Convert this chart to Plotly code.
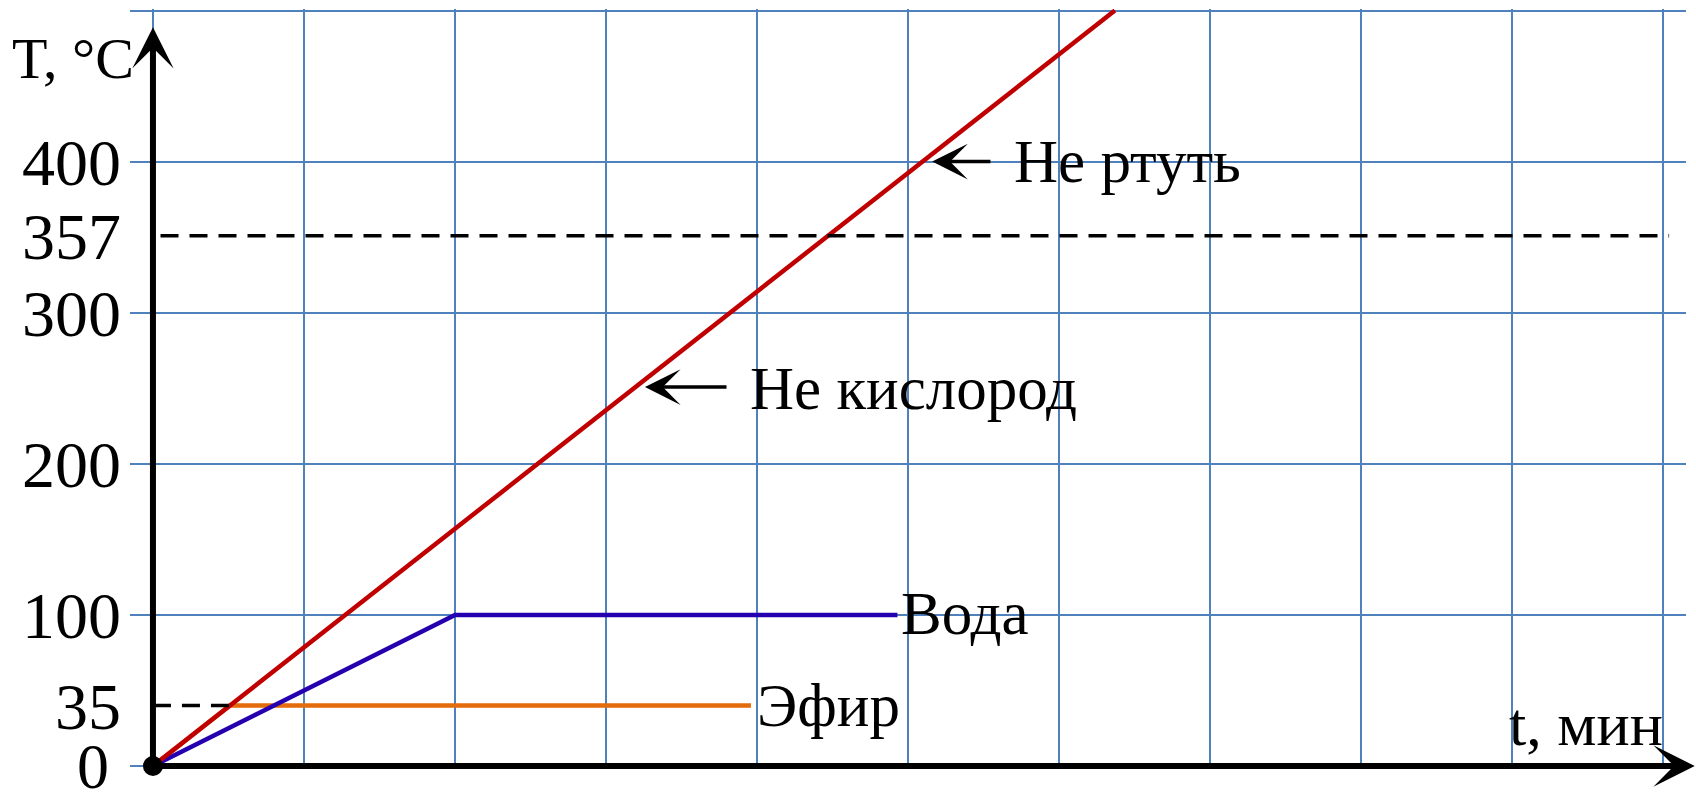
import plotly.graph_objects as go

# ---- data ----
ether_t = [0, 0.51, 3.96]
ether_T = [0, 40, 40]
water_t = [0, 2, 4.93]
water_T = [0, 100, 100]
other_t = [0, 6.37]
other_T = [0, 500]
ether_dash_t = [0, 0.51]
ether_dash_T = [40, 40]
merc_dash_t = [0.05, 10.04]
merc_dash_T = [351, 351]

ytick_vals = [40, 100, 200, 300, 351, 400]
ytick_text = ["35", "100", "200", "300", "357", "400"]

labels = ["Вода", "Эфир", "Не ртуть", "Не кислород"]
label_x = [4.94, 3.99, 5.69, 3.94]
label_y = [101, 40, 400, 250]

arrow_tip_x = [5.16, 3.258]
arrow_tip_y = [400, 250.8]
arrow_tail_x = [5.556, 3.808]

RED = "#C00000"
BLUE = "#2400B0"
ORANGE = "#E46C0A"
GRID = "#4F81BD"
FONT = "Liberation Serif"

fig = go.Figure()
fig.add_trace(go.Scatter(x=ether_t, y=ether_T, mode="lines",
                         line=dict(color=ORANGE, width=4.5), showlegend=False))
fig.add_trace(go.Scatter(x=water_t, y=water_T, mode="lines",
                         line=dict(color=BLUE, width=4.5), showlegend=False))
fig.add_trace(go.Scatter(x=other_t, y=other_T, mode="lines",
                         line=dict(color=RED, width=4.5), showlegend=False))
fig.add_trace(go.Scatter(x=ether_dash_t, y=ether_dash_T, mode="lines",
                         line=dict(color="black", width=3.5, dash="18px,11px"), showlegend=False))
fig.add_trace(go.Scatter(x=merc_dash_t, y=merc_dash_T, mode="lines",
                         line=dict(color="black", width=3.5, dash="18px,11px"), showlegend=False))
fig.add_trace(go.Scatter(x=[0], y=[0], mode="markers", cliponaxis=False,
                         marker=dict(color="black", size=20), showlegend=False))

ann = []
# axes as arrows
ann.append(dict(x=0, y=489, ax=0, ay=0, xref="x", yref="y", axref="x", ayref="y",
                text="", showarrow=True, arrowhead=3, arrowsize=1.15, arrowwidth=6,
                arrowcolor="black", standoff=0, startstandoff=0))
ann.append(dict(x=10.21, y=0, ax=0, ay=0, xref="x", yref="y", axref="x", ayref="y",
                text="", showarrow=True, arrowhead=3, arrowsize=1.15, arrowwidth=6,
                arrowcolor="black", standoff=0, startstandoff=0))
# pointer arrows
for tx, ty, ax_ in zip(arrow_tip_x, arrow_tip_y, arrow_tail_x):
    ann.append(dict(x=tx, y=ty, ax=ax_, ay=ty, xref="x", yref="y", axref="x", ayref="y",
                    text="", showarrow=True, arrowhead=3, arrowsize=1.7, arrowwidth=3.5,
                    arrowcolor="black", standoff=0, startstandoff=0))
# line labels
for t, x, y in zip(labels, label_x, label_y):
    ann.append(dict(x=x, y=y, xref="x", yref="y", text=t, showarrow=False,
                    xanchor="left", yanchor="middle",
                    font=dict(family=FONT, size=61, color="black")))
# axis titles
ann.append(dict(x=-0.077, y=0.935, xref="paper", yref="paper", text="T, °C", showarrow=False,
                xanchor="left", yanchor="middle", font=dict(family=FONT, size=58, color="black")))
ann.append(dict(x=10.01, y=28, xref="x", yref="y", text="t, мин", showarrow=False,
                xanchor="right", yanchor="middle", font=dict(family=FONT, size=62, color="black")))
# zero label
ann.append(dict(x=0, y=0, xref="x", yref="y", text="0", showarrow=False,
                xanchor="right", yanchor="middle", xshift=-42, yshift=-1,
                font=dict(family=FONT, size=64, color="black")))

fig.update_layout(
    width=1696, height=792,
    margin=dict(l=130, r=10, t=9, b=23),
    paper_bgcolor="white", plot_bgcolor="white",
    showlegend=False,
    annotations=ann,
    xaxis=dict(range=[-0.152, 10.152], dtick=1, tick0=0, showgrid=True, gridcolor=GRID,
               gridwidth=2, zeroline=False, showticklabels=False, showline=False, ticks=""),
    yaxis=dict(range=[-2, 501], dtick=100, tick0=0, showgrid=True, gridcolor=GRID,
               gridwidth=2, zeroline=False, showticklabels=False, showline=False, ticks=""),
    yaxis2=dict(range=[-2, 501], overlaying="y", side="left", tickmode="array",
                tickvals=ytick_vals, ticktext=ytick_text, showgrid=False, zeroline=False,
                showline=False, ticks="", ticklabelstandoff=8,
                tickfont=dict(family=FONT, size=66, color="black")),
)
# invisible trace to bind yaxis2
fig.add_trace(go.Scatter(x=[0], y=[0], yaxis="y2", mode="markers",
                         marker=dict(opacity=0), showlegend=False, hoverinfo="skip"))

fig.write_html("out.html", config={"displayModeBar": False},
               post_script="document.body.style.margin='0px';document.body.style.overflow='hidden';")
